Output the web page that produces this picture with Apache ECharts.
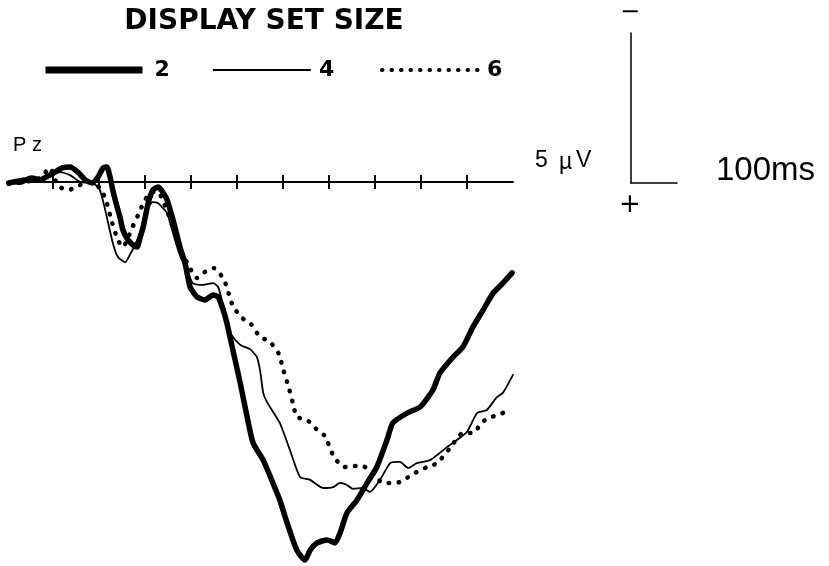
<!DOCTYPE html>
<html><head><meta charset="utf-8">
<script src="https://cdn.jsdelivr.net/npm/echarts@6/dist/echarts.min.js"></script>
<style>html,body{margin:0;padding:0;background:#fff}#c{width:829px;height:566px}</style>
</head><body><div id="c"></div>
<script>
// Display set sizes (legend)
const setSizes = ['2', '4', '6'];
// Time axis ticks (ms)
const tickValues = [0, 100, 200, 300, 400, 500, 600, 700, 800, 900];

// Set size 2 (thick): time (ms), amplitude (µV, positive plotted downward)
const size2Ms = [-96,-76,-61,-46,-28,-11,4,20,37,54,70,85,98,109,117,124,130,137,146,152,163,174,183,189,196,207,217,228,237,248,261,276,287,298,313,330,348,359,370,378,391,407,422,435,457,478,493,509,530,548,559,574,596,613,624,639,661,683,704,726,739,770,798,826,841,870,891,913,935,957,978,998];
const size2Uv = [0.03,-0.03,-0.07,-0.13,-0.07,-0.2,-0.33,-0.47,-0.5,-0.33,-0.07,0.03,-0.17,-0.47,-0.5,-0.17,0.27,0.7,1.2,1.6,1.93,2.1,2.17,1.87,1.5,0.7,0.27,0.17,0.3,0.6,1.27,2.17,2.7,3.5,3.83,3.93,3.77,3.83,4.27,4.7,5.6,6.7,7.83,8.7,9.27,10.03,10.6,11.37,12.27,12.6,12.27,12.03,11.93,12.03,11.7,11.03,10.6,10.03,9.5,8.6,8.03,7.7,7.5,6.93,6.37,5.83,5.5,4.83,4.27,3.7,3.37,3.03];

// Set size 4 (thin)
const size4Ms = [-96,-72,-50,-28,-7,15,37,59,80,93,102,111,117,130,141,157,167,178,189,207,217,228,239,248,259,270,280,291,304,326,348,359,367,374,385,407,428,443,450,457,465,493,515,537,559,587,609,624,639,652,674,689,711,733,754,772,791,820,841,857,878,900,922,943,965,978,1000];
const size4Uv = [0,0.07,-0.07,-0.13,-0.17,-0.33,-0.23,0,0.03,0.1,0.27,0.77,1.17,2.03,2.5,2.67,2.43,2.1,1.7,0.83,0.67,0.7,0.87,1.03,1.6,2.17,2.6,2.93,3.37,3.43,3.37,3.5,3.93,4.27,5.03,5.43,5.57,5.83,6.27,7.03,7.33,8.03,8.93,9.83,9.93,10.2,10.17,10.03,10.1,10.23,10.2,10.33,9.93,9.37,9.33,9.53,9.37,9.27,9.03,8.83,8.6,8.33,7.7,7.6,7.17,7.03,6.43];

// Set size 6 (dotted)
const size6Ms = [-96,-61,-28,-7,11,33,59,80,102,115,128,141,152,163,172,185,200,215,228,243,259,276,291,313,330,350,372,391,411,430,450,470,491,500,511,522,530,552,572,591,611,633,652,674,696,717,733,754,783,813,835,863,891,913,933,954,974,993];
const size6Uv = [0.07,0,-0.13,-0.47,0.13,0.27,0.1,0,0.2,0.6,1.33,1.93,2.17,1.87,1.53,1.1,0.6,0.33,0.33,0.77,1.43,2.2,2.67,3.2,3.0,2.87,3.27,4.13,4.53,4.73,5.17,5.3,5.73,6.23,6.77,7.4,7.83,7.93,8.23,8.47,9.17,9.5,9.47,9.47,9.73,10.03,10.03,10.0,9.73,9.5,9.37,8.87,8.37,8.37,8.0,7.83,7.73,7.57];

const zip = (a, b) => a.map((t, i) => [t, b[i]]);

const styles = [
  { color: '#000', width: 5.5, type: 'solid', cap: 'round', join: 'round' },
  { color: '#000', width: 1.8, type: 'solid', cap: 'round', join: 'round' },
  { color: '#000', width: 4.5, type: [0.5, 9.5], cap: 'round', join: 'round' }
];
const legendStyles = [
  { color: '#000', width: 7, type: 'solid', cap: 'butt' },
  { color: '#000', width: 1.8, type: 'solid', cap: 'butt' },
  { color: '#000', width: 4, type: [0.5, 9], cap: 'round' }
];
const dataSets = [zip(size2Ms, size2Uv), zip(size4Ms, size4Uv), zip(size6Ms, size6Uv)];
const legendPos = [{ left: 42, pad: 7 }, { left: 212, pad: 3 }, { left: 380, pad: 0 }];
const legendWidths = [97, 98, 100];

const chart = echarts.init(document.getElementById('c'), null, { renderer: 'canvas' });

const hiddenAxisParts = { axisLabel: { show: false }, splitLine: { show: false } };
const tickStyle = { color: '#000', width: 2 };

chart.setOption({
  backgroundColor: '#fff',
  animation: false,
  grid: [
    { left: 7, width: 506, top: 2, height: 564, containLabel: false },
    { left: 631, width: 46, top: 33, height: 150, containLabel: false },
    { left: 7, width: 506, top: 2, height: 180, containLabel: false }
  ],
  xAxis: [
    Object.assign({ gridIndex: 0, type: 'value', min: -100, max: 1000, position: 'bottom',
      axisLine: { show: true, onZero: true, lineStyle: { color: '#000', width: 2 } },
      axisTick: { show: true, inside: false, length: 7, customValues: tickValues, lineStyle: tickStyle } }, hiddenAxisParts),
    Object.assign({ gridIndex: 1, type: 'value', min: 0, max: 100, position: 'bottom',
      axisLine: { show: true, onZero: false, lineStyle: { color: '#000', width: 1.5 } },
      axisTick: { show: false } }, hiddenAxisParts),
    Object.assign({ gridIndex: 2, type: 'value', min: -100, max: 1000, position: 'bottom',
      axisLine: { show: false, onZero: false },
      axisTick: { show: true, inside: true, length: 7, customValues: tickValues, lineStyle: tickStyle } }, hiddenAxisParts)
  ],
  yAxis: [
    Object.assign({ gridIndex: 0, type: 'value', min: -6, max: 12.8, inverse: true, show: false }, hiddenAxisParts),
    Object.assign({ gridIndex: 1, type: 'value', min: -5, max: 0, inverse: true, position: 'left',
      axisLine: { show: true, onZero: false, lineStyle: { color: '#000', width: 1.5 } },
      axisTick: { show: false } }, hiddenAxisParts),
    Object.assign({ gridIndex: 2, type: 'value', min: -6, max: 0, inverse: true, show: false }, hiddenAxisParts)
  ],
  legend: setSizes.map((s, i) => ({
    data: [s], left: legendPos[i].left, top: 59, itemWidth: legendWidths[i], itemHeight: 14,
    selectedMode: false, padding: 0,
    lineStyle: legendStyles[i],
    itemStyle: { opacity: 0 },
    textStyle: { fontSize: 22, fontWeight: 'bold', fontFamily: 'DejaVu Sans', color: '#000', padding: [0, 0, 0, legendPos[i].pad] }
  })),
  graphic: [
    { type: 'text', x: 264, y: 22, style: { text: 'DISPLAY SET SIZE', fontSize: 28, fontWeight: 'bold', fontFamily: 'DejaVu Sans', fill: '#000', align: 'center', verticalAlign: 'middle' } },
    { type: 'text', x: 13, y: 145, style: { text: 'P z', fontSize: 20, fontFamily: 'Liberation Sans', fill: '#000', align: 'left', verticalAlign: 'middle' } },
    { type: 'text', x: 535, y: 161, style: { text: '5', fontSize: 23, fontFamily: 'Liberation Sans', fill: '#000', align: 'left', verticalAlign: 'middle' } },
    { type: 'text', x: 559, y: 163, style: { text: 'µ', fontSize: 23, fontFamily: 'Liberation Sans', fill: '#000', align: 'left', verticalAlign: 'middle' } },
    { type: 'text', x: 576, y: 161, style: { text: 'V', fontSize: 23, fontFamily: 'Liberation Sans', fill: '#000', align: 'left', verticalAlign: 'middle' } },
    { type: 'text', x: 716, y: 171, style: { text: '100ms', fontSize: 33, fontFamily: 'Liberation Sans', fill: '#000', align: 'left', verticalAlign: 'middle' } },
    { type: 'text', x: 630, y: 13, style: { text: '−', fontSize: 24, fontFamily: 'DejaVu Sans', fill: '#000', align: 'center', verticalAlign: 'middle' } },
    { type: 'text', x: 630, y: 205, style: { text: '+', fontSize: 26, fontFamily: 'DejaVu Sans', fill: '#000', align: 'center', verticalAlign: 'middle' } }
  ],
  series: setSizes.map((s, i) => ({
    name: s, type: 'line', xAxisIndex: 0, yAxisIndex: 0,
    data: dataSets[i], symbol: 'none', showSymbol: false, smooth: 0.2, clip: false,
    lineStyle: styles[i], z: 3 - i
  }))
});
</script></body></html>
